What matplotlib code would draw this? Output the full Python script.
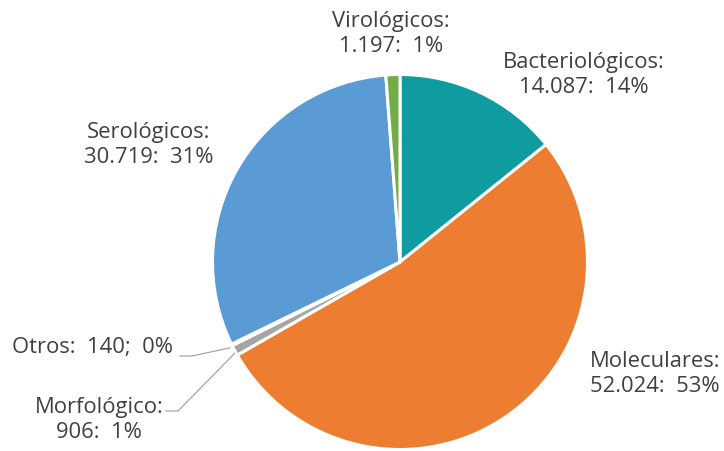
import matplotlib.pyplot as plt
import numpy as np

# data
categories = ["Bacteriológicos", "Moleculares", "Morfológico", "Otros", "Serológicos", "Virológicos"]
values = [14087, 52024, 906, 140, 30719, 1197]
colors = ["#0E9CA0", "#ED7D31", "#A5A5A5", "#7F7F7F", "#5B9BD5", "#70AD47"]

plt.rcParams['font.family'] = ['Open Sans', 'DejaVu Sans']

fig = plt.figure(figsize=(7.24, 4.51), dpi=100)
ax = fig.add_axes([0, 0, 1, 1])

cx, cy, r = 400, 262, 187.5
wedges, _ = ax.pie(values, colors=colors, startangle=-90, counterclock=True,
                   center=(cx, cy), radius=r,
                   wedgeprops=dict(edgecolor='white', linewidth=2.2))
ax.set_xlim(0, 724)
ax.set_ylim(451, 0)
ax.set_aspect('equal')
ax.axis('off')

total = sum(values)


def fmt(v):
    return "{:,}".format(v).replace(",", ".")


def pct(v):
    return "%d%%" % round(100 * v / total)


txt = dict(fontsize=15.8, color='#404040', ha='center', va='center', linespacing=1.2)

# label positions (text layout)
ax.text(391, 34, "Virológicos:\n%s:  %s" % (fmt(values[5]), pct(values[5])), **txt)
ax.text(584, 75, "Bacteriológicos:\n%s:  %s" % (fmt(values[0]), pct(values[0])), **txt)
ax.text(149, 145, "Serológicos:\n%s:  %s" % (fmt(values[4]), pct(values[4])), **txt)
ax.text(655, 374, "Moleculares:\n%s:  %s" % (fmt(values[1]), pct(values[1])), **txt)
ax.text(93, 347, "Otros:  %d;  %s" % (values[3], pct(values[3])), **txt)
ax.text(99, 420, "Morfológico:\n%s:  %s" % (fmt(values[2]), pct(values[2])), **txt)


def edge_point(w):
    a = np.deg2rad((w.theta1 + w.theta2) / 2)
    return cx + r * np.cos(a), cy + r * np.sin(a)


# leader lines
ex, ey = edge_point(wedges[3])
ax.plot([180, 192, ex - 2], [356, 356, ey + 3], color='#A6A6A6', lw=0.9)
ex, ey = edge_point(wedges[2])
ax.plot([166, 178, ex], [411, 411, ey + 3], color='#A6A6A6', lw=0.9)

fig.savefig("out.png", dpi=100)
